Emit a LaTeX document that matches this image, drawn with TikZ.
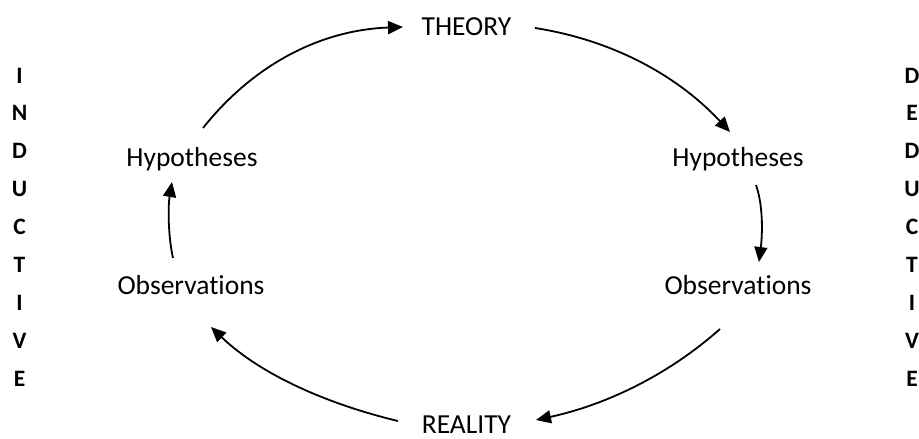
\documentclass[tikz,border=0pt]{standalone}
\usepackage{fontspec}
\setmainfont{Carlito}[Ligatures=NoCommon]
\usetikzlibrary{arrows.meta}
\begin{document}
\begin{tikzpicture}[x=1pt,y=-1pt,
  lbl/.style={anchor=base,inner sep=0pt,font=\fontsize{27.5}{30}\selectfont},
  vletter/.style={anchor=base,inner sep=0pt,font=\fontsize{23.5}{26}\selectfont\bfseries},
  arr/.style={line width=1.8pt,-{Triangle[length=15pt,width=13pt]}}]
\useasboundingbox[fill=white] (0,0) rectangle (919,439);
% labels
\node[lbl] (theory) at (466.5,35) {THEORY};
\node[lbl] (reality) at (466.5,433) {REALITY};
\node[lbl] (hypL) at (192,166) {Hypotheses};
\node[lbl] (obsL) at (191,294) {Observations};
\node[lbl] (hypR) at (738,166) {Hypotheses};
\node[lbl] (obsR) at (738,294) {Observations};
% vertical words
\foreach \c [count=\i from 0] in {I,N,D,U,C,T,I,V,E}
  \node[vletter] (ind\i) at (19.5,83+37.9*\i) {\c};
\foreach \c [count=\i from 0] in {D,E,D,U,C,T,I,V,E}
  \node[vletter] (ded\i) at (912,83+37.9*\i) {\c};
% connector end points
\coordinate (a1s) at (203,128);
\coordinate (a1e) at (403,27);
\coordinate (a2s) at (535,28);
\coordinate (a2e) at (730,132);
\coordinate (a3s) at (756,185);
\coordinate (a3e) at (759,262);
\coordinate (a4s) at (720,329);
\coordinate (a4e) at (536,420);
\coordinate (a5s) at (398,421);
\coordinate (a5e) at (211,327);
\coordinate (a6s) at (173,258);
\coordinate (a6e) at (172,182);
% arrows
\draw[arr] (a1s) .. controls (254,64) and (321,30) .. (a1e);
\draw[arr] (a2s) .. controls (612,40) and (677,75) .. (a2e);
\draw[arr] (a3s) .. controls (764,208) and (762,238) .. (a3e);
\draw[arr] (a4s) .. controls (667,376) and (605,405) .. (a4e);
\draw[arr] (a5s) .. controls (331,405) and (262,376) .. (a5e);
\draw[arr] (a6s) .. controls (168,236) and (168,206) .. (a6e);
\end{tikzpicture}
\end{document}
